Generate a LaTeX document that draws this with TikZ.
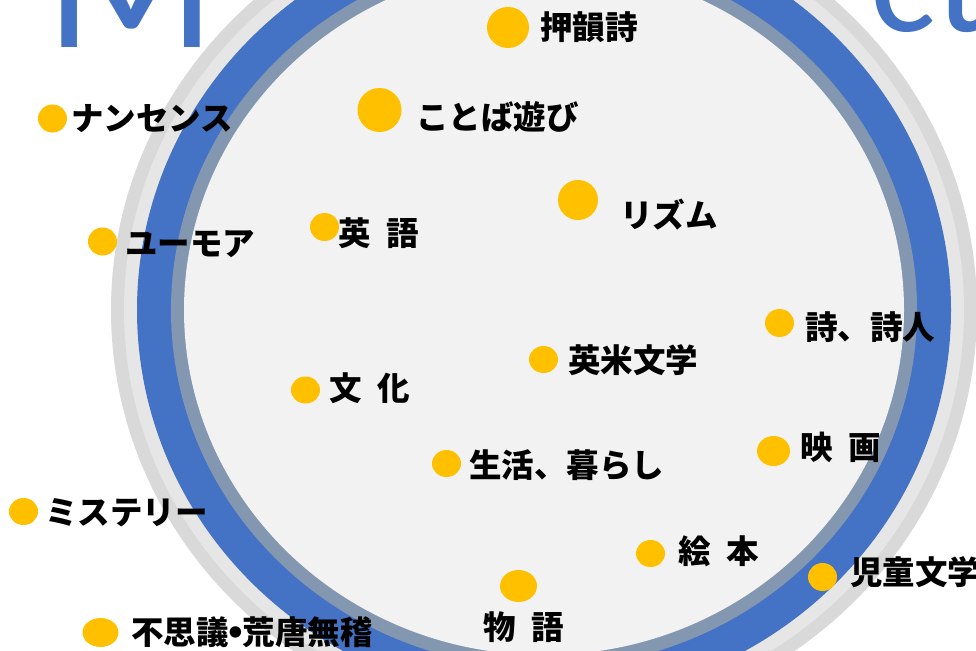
\documentclass[tikz,border=0pt]{standalone}
\usepackage{fontspec}
\setmainfont{Carlito}
\newfontfamily\jpfont{Noto Sans CJK JP}
\newfontfamily\titlefont{Carlito}
\newfontfamily\bulletfont{DejaVu Sans}
\usetikzlibrary{shapes.geometric}
\definecolor{dotyellow}{HTML}{FFC000}
\definecolor{ttlblue}{HTML}{4472C4}
\definecolor{ringblue}{HTML}{4472C4}
\definecolor{ringslate}{HTML}{8497B0}
\definecolor{ringdark}{HTML}{D9D9D9}
\definecolor{ringlight}{HTML}{E6E6E6}
\definecolor{innerfill}{HTML}{F2F2F2}
\begin{document}
\begin{tikzpicture}[x=1pt,y=-1pt,
  dot/.style={ellipse, fill=dotyellow, draw=none, inner sep=0pt},
  lbl/.style={anchor=base west, inner sep=0pt, text=black,
    font=\jpfont\bfseries\fontsize{32.5}{32.5}\selectfont},
  bigtitle/.style={anchor=base west, inner sep=0pt, text=ttlblue}]
\useasboundingbox (0,0) rectangle (976,650);
\clip (0,0) rectangle (976,650);
\fill[white] (0,0) rectangle (976,650);
% big title letters (partly hidden behind the circle)
\node[bigtitle, font=\titlefont\fontsize{200}{200}\selectfont] (tm) at (45,48) {M};
\node[bigtitle, font=\titlefont\fontsize{155}{155}\selectfont] (tct) at (870,32) {ct};
% rings
\coordinate (c) at (544,310);
\fill[ringdark]  (c) ellipse [x radius=433pt, y radius=418pt];
\fill[ringlight] (c) ellipse [x radius=420pt, y radius=405pt];
\fill[ringblue]  (c) ellipse [x radius=407pt, y radius=392pt];
\fill[ringslate] (c) ellipse [x radius=373pt, y radius=358pt];
\fill[innerfill] (c) ellipse [x radius=360pt, y radius=345pt];
% dots
\node[dot, minimum width=42pt, minimum height=41pt] (d1) at (508,27.5) {};
\node[dot, minimum width=44pt, minimum height=44pt] (d2) at (379.5,110) {};
\node[dot, minimum width=29pt, minimum height=28pt] (d3) at (52.5,118.5) {};
\node[dot, minimum width=40pt, minimum height=40pt] (d4) at (578,200) {};
\node[dot, minimum width=29pt, minimum height=28pt] (d5) at (102.5,241.5) {};
\node[dot, minimum width=29pt, minimum height=28pt] (d6) at (324.5,227) {};
\node[dot, minimum width=29pt, minimum height=28pt] (d7) at (779.5,323) {};
\node[dot, minimum width=29pt, minimum height=27pt] (d8) at (543.5,359.5) {};
\node[dot, minimum width=29pt, minimum height=27pt] (d9) at (305.5,390) {};
\node[dot, minimum width=33pt, minimum height=30pt] (d10) at (773.5,451) {};
\node[dot, minimum width=29pt, minimum height=27pt] (d11) at (446.5,463.5) {};
\node[dot, minimum width=29pt, minimum height=27pt] (d12) at (23.5,511.5) {};
\node[dot, minimum width=29pt, minimum height=27pt] (d13) at (650.5,553.5) {};
\node[dot, minimum width=29pt, minimum height=28pt] (d14) at (822.5,577) {};
\node[dot, minimum width=37pt, minimum height=32pt] (d15) at (518.5,586) {};
\node[dot, minimum width=36pt, minimum height=29pt] (d16) at (100.5,632.5) {};
% labels (baseline = visual centre + 12)
\node[lbl] (l1) at (540,40) {押韻詩};
\node[lbl] (l2) at (416,129) {ことば遊び};
\node[lbl] (l3) at (71,130) {ナンセンス};
\node[lbl] (l4) at (620,227) {リズム};
\node[lbl] (l5) at (125,255) {ユーモア};
\node[lbl] (l6) at (338,245) {英\hspace{0.5em}語};
\node[lbl] (l7) at (805,339) {詩、詩人};
\node[lbl] (l8) at (568,372) {英米文学};
\node[lbl] (l9) at (329,400) {文\hspace{0.5em}化};
\node[lbl] (l10) at (800,459) {映\hspace{0.5em}画};
\node[lbl] (l11) at (469,477.5) {生活、暮らし};
\node[lbl] (l12) at (45,524) {ミステリー};
\node[lbl] (l13) at (678,563) {絵\hspace{0.5em}本};
\node[lbl] (l14) at (850,584.5) {児童文学};
\node[lbl] (l15) at (483,639) {物\hspace{0.5em}語};
\node[lbl] (l16) at (131,644) {不思議{\bulletfont\bfseries\kern-0.1em•\kern-0.1em}荒唐無稽};
\end{tikzpicture}
\end{document}
